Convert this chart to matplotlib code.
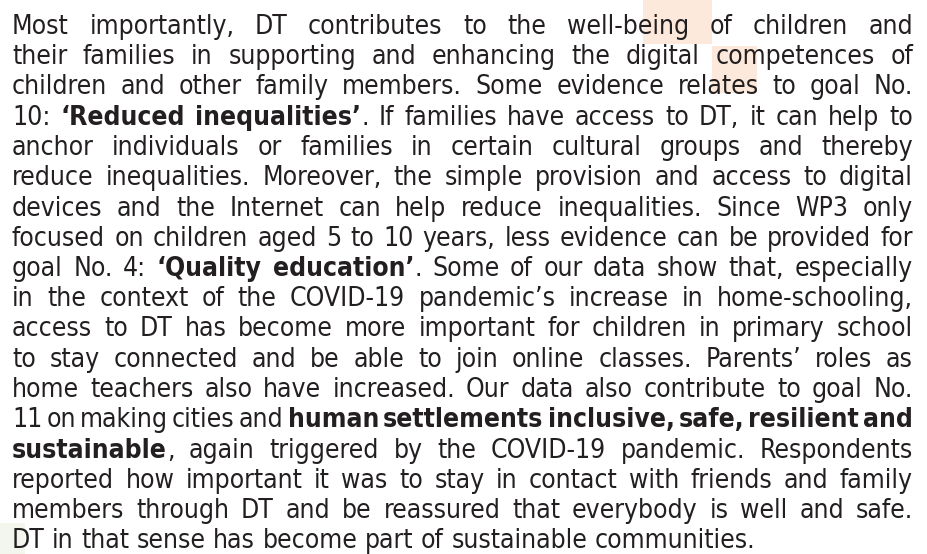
"""
Justified paragraph from the report page, redrawn as matplotlib text.
Every word is its own text, placed so that each line runs from the left to
the right margin. Agg rounds each text bitmap on its own, so the y of each
word is nudged to land on the same pixel baseline as its neighbours.
"""

import math

import matplotlib
matplotlib.use("Agg")
import matplotlib.pyplot as plt
from matplotlib.backends.backend_agg import get_hinting_flag
from matplotlib.font_manager import FontProperties
from matplotlib.patches import Rectangle


# text lines as on the page, ** toggles bold
LINES = [
    "Most importantly, DT contributes to the well-being of children and",
    "their families in supporting and enhancing the digital competences of",
    "children and other family members. Some evidence relates to goal No.",
    "10: **‘Reduced inequalities’**. If families have access to DT, it can help to",
    "anchor individuals or families in certain cultural groups and thereby",
    "reduce inequalities. Moreover, the simple provision and access to digital",
    "devices and the Internet can help reduce inequalities. Since WP3 only",
    "focused on children aged 5 to 10 years, less evidence can be provided for",
    "goal No. 4: **‘Quality education’**. Some of our data show that, especially",
    "in the context of the COVID-19 pandemic’s increase in home-schooling,",
    "access to DT has become more important for children in primary school",
    "to stay connected and be able to join online classes. Parents’ roles as",
    "home teachers also have increased. Our data also contribute to goal No.",
    "11 on making cities and **human settlements inclusive, safe, resilient and**",
    "**sustainable**, again triggered by the COVID-19 pandemic. Respondents",
    "reported how important it was to stay in contact with friends and family",
    "members through DT and be reassured that everybody is well and safe.",
    "DT in that sense has become part of sustainable communities.",
]

# faint marker boxes behind the text: (x, y, w, h, colour) in pixels
HIGHLIGHTS = [
    (643, 0, 69, 44, "#fde9db"),
    (712, 46, 45, 47, "#fde9db"),
    (0, 523, 25, 31, "#f2f6ec"),
]

W, H = 928, 554
LEFT, RIGHT = 12, 913
FIRST_BASELINE = 34
LINE_STEP = 30.25
TEXT_COLOR = "#231f20"
FONT = "DejaVu Sans"
STRETCH = "condensed"
MIN_GAP = 0.55   # tightest gap allowed, as a share of a normal space


def parse_line(line):
    """
    splits a marked line into words, each word a list of (text, bold) parts
    """
    chars = []
    bold = False
    i = 0
    while i < len(line):
        if line.startswith("**", i):
            bold = not bold
            i += 2
            continue
        chars.append((line[i], bold))
        i += 1
    words, current = [], []
    for ch, b in chars:
        if ch == " ":
            if current:
                words.append(current)
            current = []
            continue
        if current and current[-1][1] == b:
            current[-1] = (current[-1][0] + ch, b)
        else:
            current.append((ch, b))
    if current:
        words.append(current)
    return words


fig = plt.figure(figsize=(W / 100, H / 100), dpi=100)
ax = fig.add_axes([0, 0, 1, 1])
ax.set_xlim(0, W)
ax.set_ylim(H, 0)
ax.axis("off")

for x, y, w, h, c in HIGHLIGHTS:
    ax.add_patch(Rectangle((x, y), w, h, facecolor=c, edgecolor="none", zorder=0))

renderer = fig.canvas.get_renderer()


def text_kw(bold, size):
    return dict(fontsize=size, family=FONT, fontstretch=STRETCH,
                fontweight="bold" if bold else "normal")


def text_width(s, bold, size):
    t = ax.text(0, 0, s, **text_kw(bold, size))
    w = t.get_window_extent(renderer).width
    t.remove()
    return w


def gap_width(s, bold, size):
    # width of a spacer string measured between two letters
    return text_width("x" + s + "x", bold, size) - text_width("xx", bold, size)


def baseline_y(s, bold, size, row):
    """
    y (pixels from top) to hand to ax.text so that Agg puts the baseline of s
    exactly on pixel row `row`
    """
    prop = FontProperties(family=FONT, stretch=STRETCH, size=size,
                          weight="bold" if bold else "normal")
    font = renderer._prepare_font(prop)
    font.set_text(s, 0, flags=get_hinting_flag())
    _, h = font.get_width_height()
    d = font.get_descent()
    _, yo = font.get_bitmap_offset()
    top = math.floor((h - d) / 64)
    return row + h // 64 - top - yo / 64 - d / 64


parsed = [parse_line(l) for l in LINES]

# size at which each line fits with tight gaps; most lines share one size,
# a line that is too long for it gets its own smaller size
base = 20.0
space_base = gap_width(" ", False, base)
fits = []
for words in parsed:
    ww = sum(text_width(s, b, base) for word in words for s, b in word)
    fits.append(base * (RIGHT - LEFT) / (ww + space_base * (len(words) - 1) * MIN_GAP))
fs_all = min(19.0, sorted(fits)[1])

for i, words in enumerate(parsed):
    fs = min(fs_all, fits[i])
    row = round(FIRST_BASELINE + i * LINE_STEP)
    last = i == len(parsed) - 1
    widths = [[text_width(s, b, fs) for s, b in word] for word in words]
    total = sum(sum(w) for w in widths)
    gap = gap_width(" ", False, fs) if last else (RIGHT - LEFT - total) / (len(words) - 1)

    x = LEFT
    for word, wl in zip(words, widths):
        for (s, b), w in zip(word, wl):
            ax.text(x, baseline_y(s, b, fs, row), s, color=TEXT_COLOR,
                    va="baseline", ha="left", **text_kw(b, fs))
            x += w
        x += gap

fig.savefig("out.png", dpi=100)
